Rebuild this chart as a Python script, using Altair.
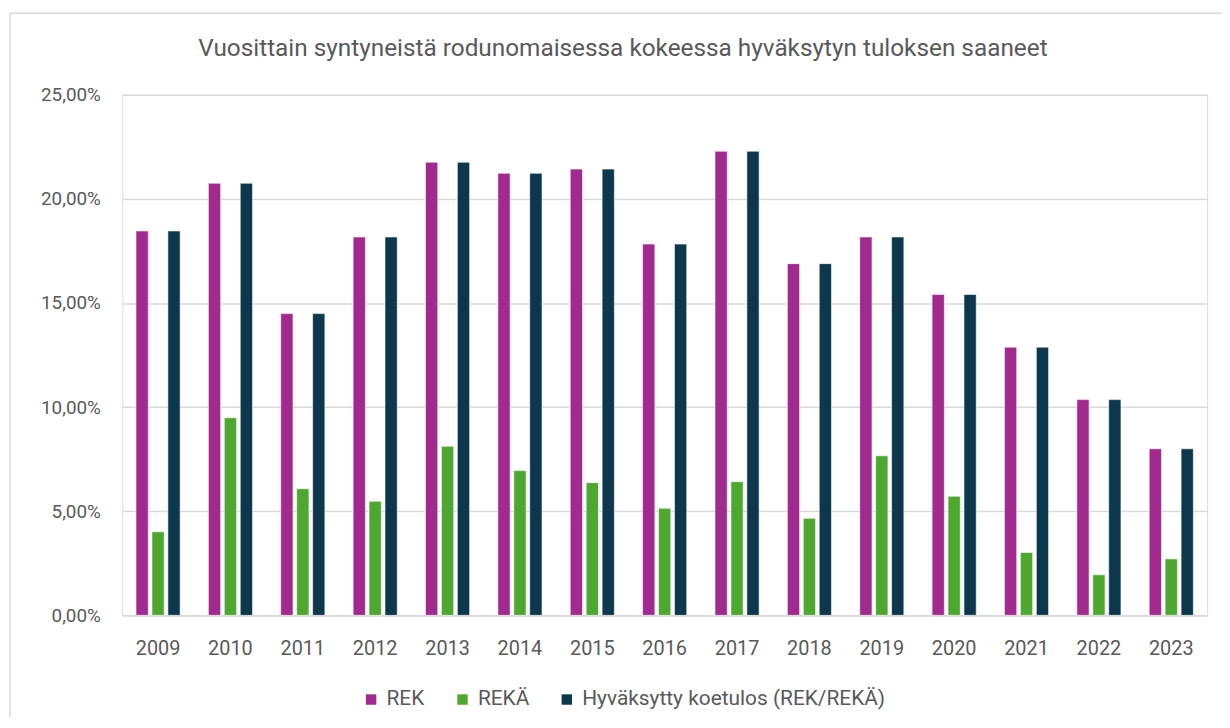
import altair as alt
import pandas as pd

years = [str(y) for y in range(2009, 2024)]
rek = [18.46, 20.75, 14.49, 18.17, 21.76, 21.23, 21.43, 17.83, 22.29, 16.89, 18.17, 15.41, 12.88, 10.36, 8.00]
reka = [4.01, 9.49, 6.08, 5.48, 8.12, 6.95, 6.37, 5.14, 6.42, 4.66, 7.66, 5.72, 3.02, 1.95, 2.71]
hyv = [18.46, 20.75, 14.49, 18.17, 21.76, 21.23, 21.43, 17.83, 22.29, 16.89, 18.17, 15.41, 12.88, 10.36, 8.00]

series = ["REK", "REKÄ", "Hyväksytty koetulos (REK/REKÄ)"]
colors = ["#A12A8F", "#4EA72E", "#0D374C"]
title_text = "Vuosittain syntyneistä rodunomaisessa kokeessa hyväksytyn tuloksen saaneet"

rows = []
for i, y in enumerate(years):
    for s, vals in zip(series, [rek, reka, hyv]):
        rows.append({"year": y, "series": s, "value": vals[i] / 100.0})
df = pd.DataFrame(rows)

FONT = "Roboto"
GRAY = "#595959"

bars = alt.Chart(df).mark_bar(stroke="white", strokeWidth=0.6).encode(
    x=alt.X("year:N", sort=years,
            scale=alt.Scale(paddingInner=0.39, paddingOuter=0.19),
            axis=alt.Axis(title=None, labelAngle=0, labelFontSize=20, labelColor=GRAY,
                          labelFont=FONT, labelPadding=23, ticks=False, domain=True,
                          domainColor="#d9d9d9", domainWidth=1.5, grid=False)),
    xOffset=alt.XOffset("series:N", sort=series, scale=alt.Scale(paddingInner=0.23)),
    y=alt.Y("value:Q", scale=alt.Scale(domain=[0, 0.25], nice=False),
            axis=alt.Axis(title=None, values=[0, 0.05, 0.10, 0.15, 0.20, 0.25],
                          labelExpr="replace(format(datum.value, '.2%'), '.', ',')",
                          labelFontSize=19, labelColor=GRAY, labelFont=FONT,
                          labelPadding=22, ticks=False, domain=False,
                          gridColor="#d9d9d9", gridWidth=1.5)),
    color=alt.Color("series:N", sort=series,
                    scale=alt.Scale(domain=series, range=colors),
                    legend=alt.Legend(title=None, orient="none", direction="horizontal",
                                      legendX=240, legendY=598, symbolType="square",
                                      symbolSize=110, symbolStrokeWidth=0,
                                      labelFontSize=21, labelColor=GRAY, labelFont=FONT,
                                      labelLimit=400, columnPadding=27, labelOffset=5)),
)

frame = alt.Chart(pd.DataFrame({"a": [0]})).mark_rect(
    fill=None, stroke="#d9d9d9", strokeWidth=1.5, clip=False
).encode(
    x=alt.value(-113), x2=alt.value(1120), y=alt.value(-82), y2=alt.value(650)
)

title = alt.Chart(pd.DataFrame({"t": [title_text]})).mark_text(
    font=FONT, fontSize=24.5, color=GRAY, align="center", baseline="middle"
).encode(
    text="t:N", x=alt.value(504), y=alt.value(-46)
)

chart = alt.layer(frame, bars, title).properties(
    width=1092, height=524,
    autosize=alt.AutoSizeParams(type="none"),
    padding={"left": 115, "top": 85, "right": 15, "bottom": 100},
).configure_view(stroke=None).configure(background="white")

chart.save("out.html", embed_options={"renderer": "svg", "actions": False})
